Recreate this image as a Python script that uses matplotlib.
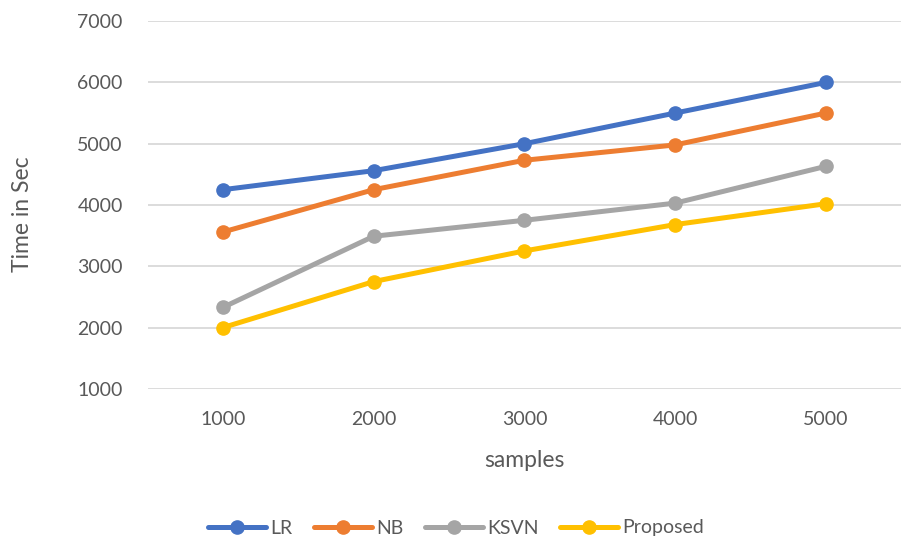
import matplotlib
matplotlib.use("Agg")
import matplotlib.pyplot as plt

plt.rcParams['font.family'] = ['Lato', 'DejaVu Sans']

samples = ["1000", "2000", "3000", "4000", "5000"]
lr = [4250, 4560, 5000, 5500, 6000]
nb = [3560, 4250, 4730, 4980, 5500]
ksvn = [2330, 3490, 3750, 4030, 4630]
proposed = [2000, 2750, 3250, 3680, 4020]

series = [
    ("LR", lr, "#4472C4"),
    ("NB", nb, "#ED7D31"),
    ("KSVN", ksvn, "#A5A5A5"),
    ("Proposed", proposed, "#FFC000"),
]

text_color = "#595959"

fig = plt.figure(figsize=(9.01, 5.43), dpi=100)
ax = fig.add_axes([0.164, 0.284, 0.836, 0.677])

x = list(range(len(samples)))
for name, vals, color in series:
    ax.plot(x, vals, color=color, linewidth=3.6, marker="o", markersize=9.5,
            label=name, solid_capstyle="round", zorder=3)

ax.set_xlim(-0.5, len(samples) - 0.5)
ax.set_ylim(1000, 7000)
ax.set_yticks(range(1000, 7001, 1000))
ax.set_xticks(x)
ax.set_xticklabels(samples)
ax.grid(axis="y", color="#D9D9D9", linewidth=1.3, zorder=0)
ax.set_axisbelow(True)
for s in ax.spines.values():
    s.set_visible(False)
ax.tick_params(length=0, labelsize=14, colors=text_color)
ax.tick_params(axis="y", pad=18)
ax.tick_params(axis="x", pad=16)

ax.set_xlabel("samples", fontsize=16.5, color=text_color)
ax.set_ylabel("Time in Sec", fontsize=16.5, color=text_color)
ax.xaxis.set_label_coords(524.5 / 901, 1 - 450 / 543, transform=fig.transFigure)
ax.yaxis.set_label_coords(33 / 901, 1 - 214 / 543, transform=fig.transFigure)

leg = fig.legend(loc="center", bbox_to_anchor=(456 / 901, 1 - 528 / 543), ncol=4,
                 frameon=False, fontsize=14, handlelength=3.0, columnspacing=1.1,
                 handletextpad=0.2)
for t in leg.get_texts():
    t.set_color(text_color)

fig.savefig("out.png", dpi=100)
